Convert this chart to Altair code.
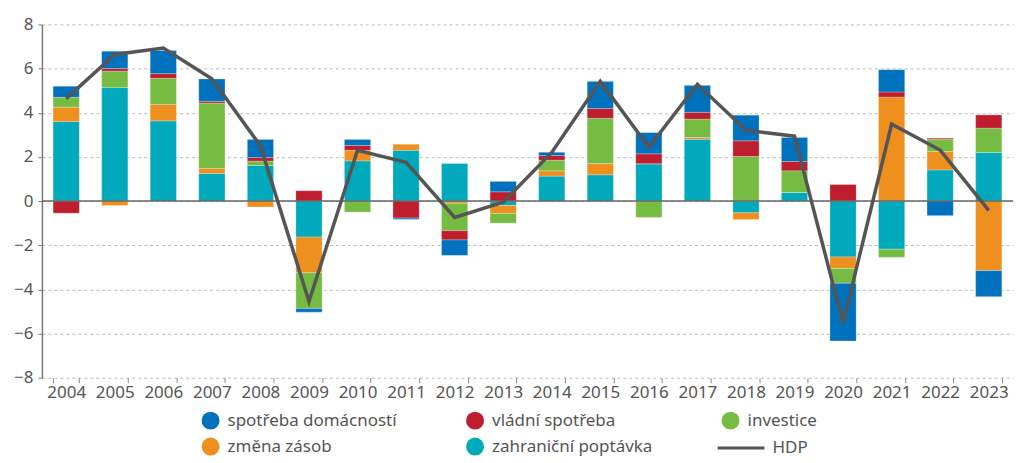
import altair as alt
import pandas as pd

years = [str(y) for y in range(2004, 2024)]

spotreba_domacnosti = [0.50, 0.79, 1.05, 1.01, 0.82, -0.16, 0.27, -0.06, -0.70, 0.47,
                       0.15, 1.23, 0.96, 1.22, 1.16, 1.09, -2.62, 1.01, -0.66, -1.18]
vladni_spotreba = [-0.55, 0.12, 0.21, 0.08, 0.16, 0.47, 0.22, -0.77, -0.42, 0.42,
                   0.21, 0.44, 0.45, 0.31, 0.71, 0.42, 0.75, 0.23, 0.05, 0.60]
investice = [0.45, 0.74, 1.18, 2.96, 0.20, -1.62, -0.50, 0.00, -1.24, -0.44,
             0.48, 2.05, -0.74, 0.83, 2.02, 0.98, -0.67, -0.37, 0.55, 1.10]
zmena_zasob = [0.65, -0.20, 0.75, 0.23, -0.27, -1.62, 0.48, 0.28, -0.10, -0.36,
               0.24, 0.51, 0.00, 0.08, -0.31, 0.00, -0.52, 4.71, 0.84, -3.15]
zahranicni_poptavka = [3.60, 5.14, 3.63, 1.25, 1.61, -1.63, 1.82, 2.30, 1.70, -0.20,
                       1.13, 1.19, 1.69, 2.80, -0.53, 0.39, -2.53, -2.18, 1.41, 2.20]
hdp = [4.64, 6.64, 6.93, 5.54, 2.50, -4.55, 2.30, 1.75, -0.74, -0.05,
       2.20, 5.42, 2.43, 5.29, 3.21, 2.94, -5.53, 3.48, 2.31, -0.42]

legend_order = ["spotřeba domácností", "vládní spotřeba", "investice",
                "změna zásob", "zahraniční poptávka"]
legend_colors = ["#0071bc", "#be1e2d", "#76bc43", "#ee8f1e", "#00a9bb"]

# stacking order from zero outwards
stack_components = [
    ("zahraniční poptávka", zahranicni_poptavka),
    ("změna zásob", zmena_zasob),
    ("investice", investice),
    ("vládní spotřeba", vladni_spotreba),
    ("spotřeba domácností", spotreba_domacnosti),
]
rows = []
for order, (name, vals) in enumerate(stack_components):
    for yr, v in zip(years, vals):
        rows.append({"rok": yr, "slozka": name, "hodnota": v, "poradi": order})
bars_df = pd.DataFrame(rows)
line_df = pd.DataFrame({"rok": years, "hodnota": hdp, "ukazatel": ["HDP"] * len(years)})
zero_df = pd.DataFrame({"nula": [0]})

FONT = "Noto Sans"
TXT = "#555555"

x_enc = alt.X(
    "rok:N", sort=years, title=None,
    scale=alt.Scale(paddingInner=0.46, paddingOuter=0.23),
    axis=alt.Axis(labelAngle=0, domain=False, grid=False, tickBand="extent",
                  ticks=True, tickSize=5, tickColor="#888888",
                  labelFont=FONT, labelFontSize=17, labelColor=TXT, labelPadding=2),
)
y_enc = alt.Y(
    "hodnota:Q", stack="zero", title=None,
    scale=alt.Scale(domain=[-8, 8], nice=False),
    axis=alt.Axis(values=list(range(-8, 9, 2)), grid=True, gridDash=[3, 3],
                  gridColor="#bbbbbb", gridWidth=1, domainColor="#777777",
                  domainWidth=1.5, tickColor="#777777", tickSize=4,
                  labelFont=FONT, labelFontSize=17, labelColor=TXT, labelPadding=5),
)

bars = alt.Chart(bars_df).mark_bar(stroke="white", strokeWidth=0.5, strokeOpacity=0.5).encode(
    x=x_enc,
    y=y_enc,
    color=alt.Color(
        "slozka:N",
        scale=alt.Scale(domain=legend_order, range=legend_colors),
        legend=alt.Legend(title=None, orient="none", legendX=160, legendY=388,
                          direction="horizontal", columns=3, symbolType="circle",
                          symbolSize=324, symbolStrokeWidth=0, symbolOpacity=1,
                          labelFont=FONT, labelFontSize=17, labelColor=TXT,
                          labelLimit=400, labelOffset=8, rowPadding=8,
                          columnPadding=69, padding=0),
    ),
    order=alt.Order("poradi:Q", sort="ascending"),
)

zero_rule = alt.Chart(zero_df).mark_rule(color="#666666", strokeWidth=1.5).encode(
    y=alt.Y("nula:Q")
)

line = alt.Chart(line_df).mark_line(strokeWidth=3.5).encode(
    x=alt.X("rok:N", sort=years),
    y=alt.Y("hodnota:Q"),
    stroke=alt.Stroke(
        "ukazatel:N",
        scale=alt.Scale(domain=["HDP"], range=["#555555"]),
        legend=alt.Legend(title=None, orient="none", legendX=690, legendY=414,
                          symbolType="M-2.6,0L2.6,0", symbolSize=324,
                          symbolStrokeWidth=3, symbolFillColor="transparent",
                          labelFont=FONT, labelFontSize=17, labelColor=TXT,
                          labelLimit=200, labelOffset=21, padding=0),
    ),
)

chart = alt.layer(bars, zero_rule, line).properties(
    width=973, height=354,
    padding={"left": 5, "top": 7, "right": 0, "bottom": 0},
).configure_view(stroke=None)

chart.save("out.html", embed_options={"renderer": "svg", "actions": False})
